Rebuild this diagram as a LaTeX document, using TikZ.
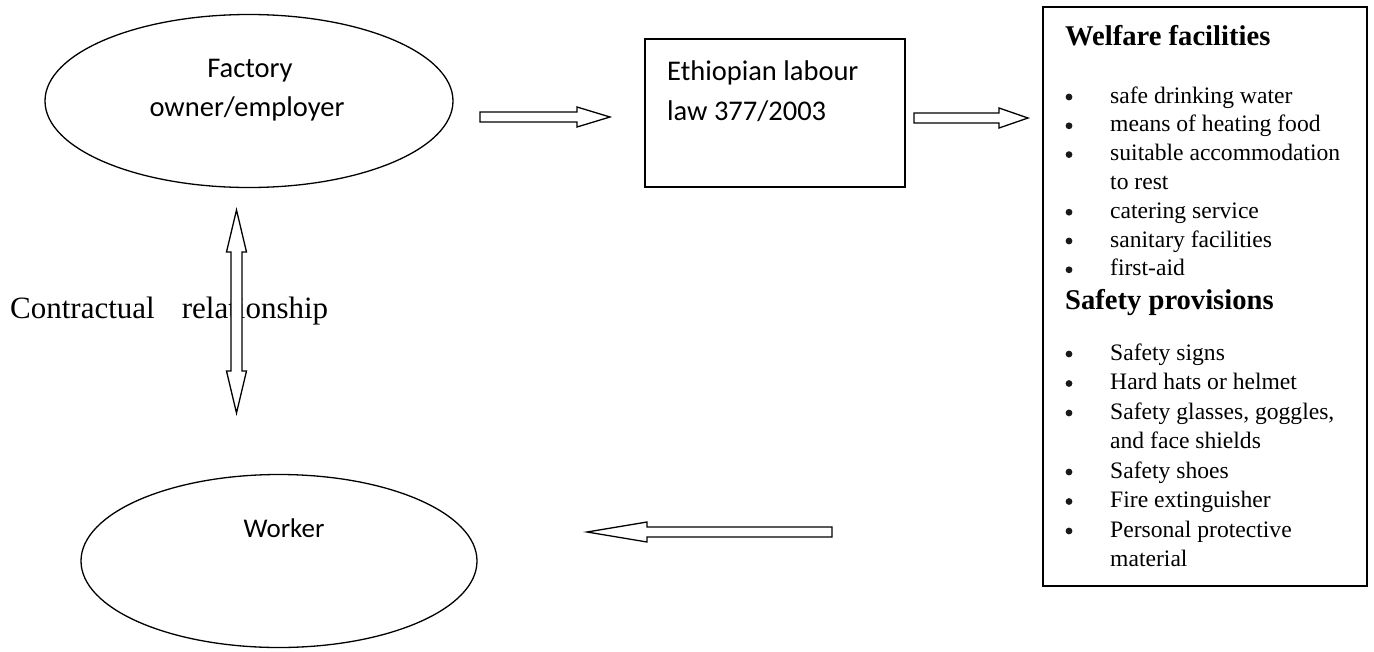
\documentclass[tikz,border=0pt]{standalone}
\usepackage{fontspec}
\setmainfont{Liberation Serif}
\newfontfamily\calfont{Carlito}
\usetikzlibrary{shapes.geometric,calc}

\tikzset{
  oval/.style={draw=black, line width=1.3pt, ellipse, inner sep=0pt},
  frame/.style={draw=black, line width=1.5pt, rectangle, inner sep=0pt},
  blockarr/.style={draw=black, fill=white, line width=1.3pt, line join=miter},
  caltext/.style={inner sep=0pt, font=\calfont\fontsize{28.5}{34}\selectfont},
  listtext/.style={inner sep=0pt, anchor=base west, font=\fontsize{23.6}{29}\selectfont},
  headtext/.style={inner sep=0pt, anchor=base west, font=\bfseries\fontsize{28.6}{34}\selectfont},
  bul/.style={fill=black!90}
}

% single block arrow: name, start, end, head length, shaft half width
\newcommand\singlearrow[5]{%
  \coordinate (#1h) at ($(#3)!#4!(#2)$);
  \draw[blockarr] ($(#2)!#5!90:(#3)$) -- ($(#1h)!#5!90:(#3)$) -- ($(#1h)!10pt!90:(#3)$) -- (#3)
    -- ($(#1h)!10pt!-90:(#3)$) -- ($(#1h)!#5!-90:(#3)$) -- ($(#2)!#5!-90:(#3)$) -- cycle;}
% double block arrow: name, A, B, head length, shaft half width
\newcommand\doublearrow[5]{%
  \coordinate (#1ha) at ($(#2)!#4!(#3)$);
  \coordinate (#1hb) at ($(#3)!#4!(#2)$);
  \draw[blockarr] (#2) -- ($(#1ha)!10pt!90:(#3)$) -- ($(#1ha)!#5!90:(#3)$) -- ($(#1hb)!#5!90:(#3)$)
    -- ($(#1hb)!10pt!90:(#3)$) -- (#3) -- ($(#1hb)!10pt!-90:(#3)$) -- ($(#1hb)!#5!-90:(#3)$)
    -- ($(#1ha)!#5!-90:(#3)$) -- ($(#1ha)!10pt!-90:(#3)$) -- cycle;}

\begin{document}
\begin{tikzpicture}[x=1pt, y=-1pt]
\useasboundingbox[fill=white] (0,0) rectangle (1374,651);

% shapes
\node[oval, minimum width=408pt, minimum height=173pt] (emp) at (249,101) {};
\node[oval, minimum width=396pt, minimum height=173pt] (wrk) at (279,561) {};
\node[frame, minimum width=260pt, minimum height=148pt] (law) at (775,113) {};
\node[frame, minimum width=324pt, minimum height=579pt] (list) at (1205,296.5) {};

% texts in shapes
\node[caltext, anchor=base] (empa) at (250,77) {Factory};
\node[caltext, anchor=base] (empb) at (247,116) {owner/employer};
\node[caltext, anchor=base, font=\calfont\fontsize{27}{32}\selectfont] (wrkt) at (284,537) {Worker};
\node[caltext, anchor=base west] (lawa) at (667,80) {Ethiopian labour};
\node[caltext, anchor=base west] (lawb) at (667,120) {law 377/2003};

% contractual label
\node[inner sep=0pt, anchor=base west, font=\fontsize{31}{36}\selectfont] (rel) at (10,318) {Contractual\hspace{27pt}relationship};

% list
\node[headtext] (h1) at (1065,45) {Welfare facilities};
\node[listtext] (w1) at (1110,103) {safe drinking water};
\node[listtext] (w2) at (1110,131.8) {means of heating food};
\node[listtext] (w3) at (1110,160.6) {suitable accommodation};
\node[listtext] (w3b) at (1110,189.4) {to rest};
\node[listtext] (w4) at (1110,218.2) {catering service};
\node[listtext] (w5) at (1110,247) {sanitary facilities};
\node[listtext] (w6) at (1110,275.8) {first-aid};
\node[headtext] (h2) at (1065,309) {Safety provisions};
\node[listtext] (s1) at (1110,360) {Safety signs};
\node[listtext] (s2) at (1110,389.5) {Hard hats or helmet};
\node[listtext] (s3) at (1110,419) {Safety glasses, goggles,};
\node[listtext] (s3b) at (1110,448.5) {and face shields};
\node[listtext] (s4) at (1110,478) {Safety shoes};
\node[listtext] (s5) at (1110,507.5) {Fire extinguisher};
\node[listtext] (s6) at (1110,537) {Personal protective};
\node[listtext] (s6b) at (1110,566.5) {material};

\foreach \y in {103,131.8,160.6,218.2,247,275.8,360,389.5,419,478,507.5,537}
  \fill[bul] (1069,\y-6) circle (3.4pt);

% arrow end points
\coordinate (a1s) at (480,117);
\coordinate (a1e) at (610,117);
\coordinate (a2s) at (914,118);
\coordinate (a2e) at (1028,118);
\coordinate (a3s) at (236.5,210);
\coordinate (a3e) at (236.5,413);
\coordinate (a4s) at (832,532);
\coordinate (a4e) at (587,532);

\singlearrow{ar1}{a1s}{a1e}{33pt}{5pt}
\singlearrow{ar2}{a2s}{a2e}{29pt}{5pt}
\doublearrow{ar3}{a3s}{a3e}{42pt}{5.5pt}
\singlearrow{ar4}{a4s}{a4e}{60pt}{5pt}
\end{tikzpicture}
\end{document}
